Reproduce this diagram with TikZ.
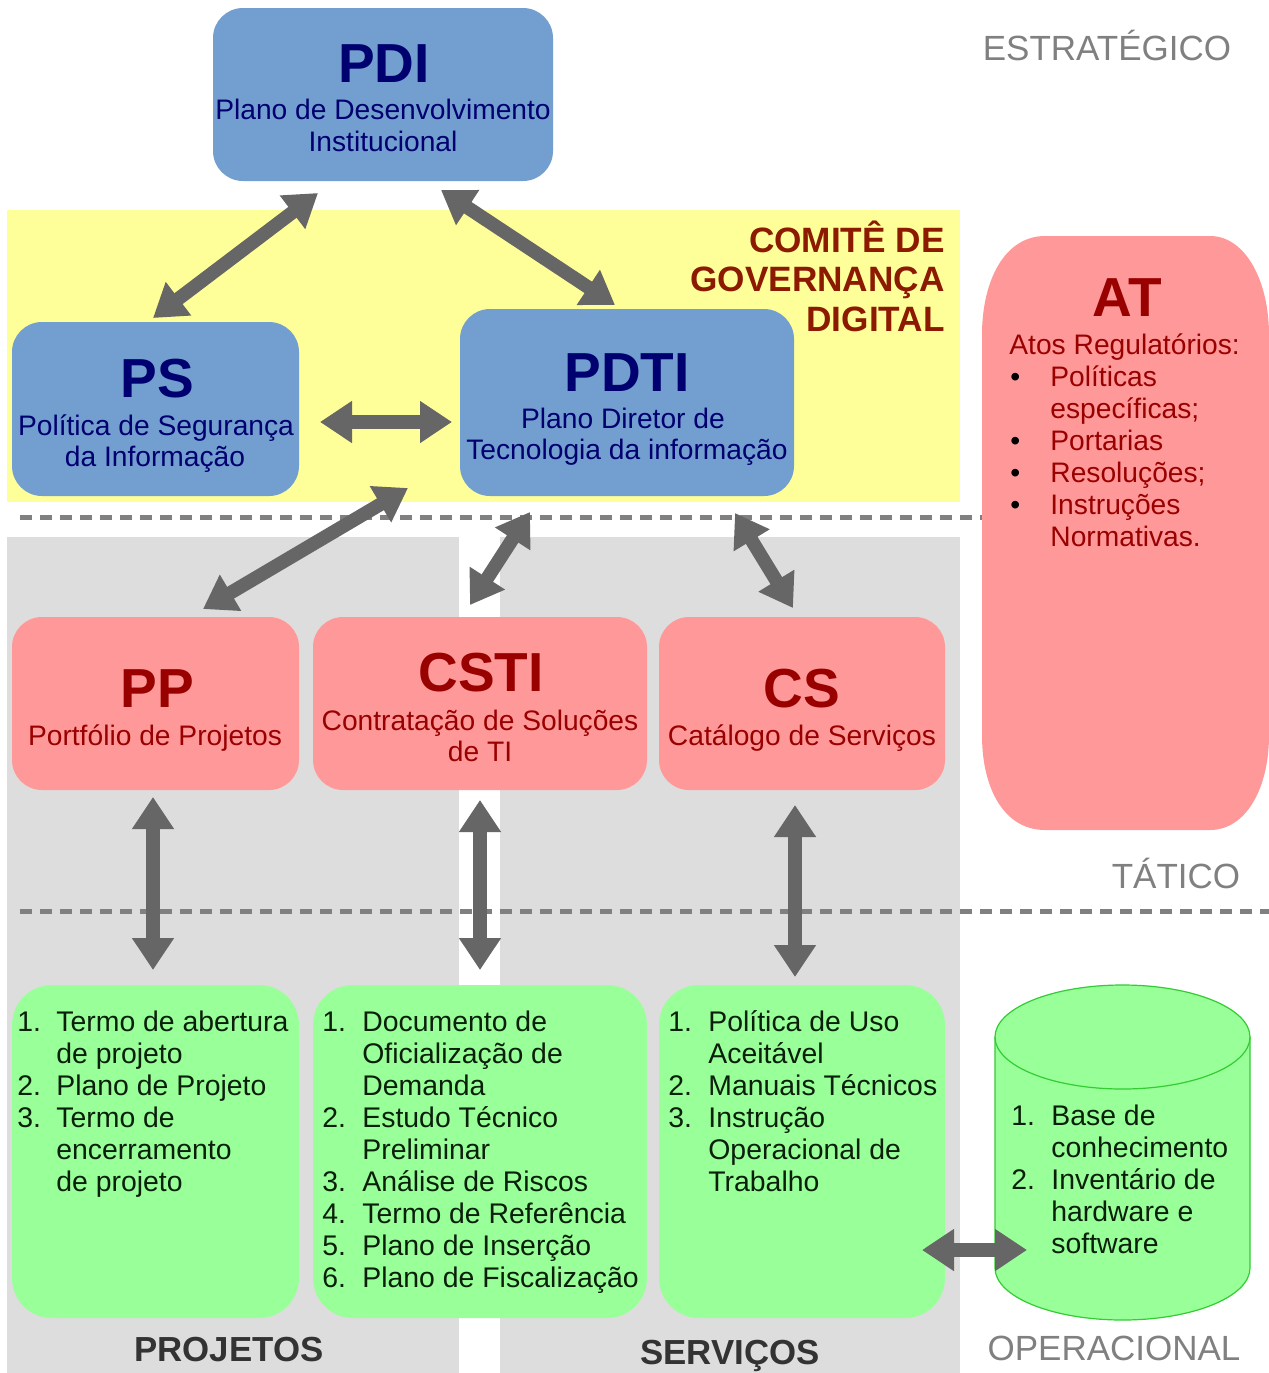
\documentclass[tikz,border=0pt]{standalone}
\usepackage{fontspec}
\setmainfont{Liberation Sans}
\usetikzlibrary{arrows.meta}
\definecolor{boxblue}{HTML}{729FCF}
\definecolor{navy}{HTML}{000070}
\definecolor{lyellow}{HTML}{FFFF99}
\definecolor{lgray}{HTML}{DDDDDD}
\definecolor{pink}{HTML}{FF9999}
\definecolor{dred}{HTML}{990000}
\definecolor{brownred}{HTML}{8B1A00}
\definecolor{lgreen}{HTML}{99FF99}
\definecolor{cylline}{HTML}{33CC33}
\definecolor{arrowgray}{HTML}{666666}
\definecolor{dashgray}{HTML}{808080}
\definecolor{lvlgray}{HTML}{808080}
\definecolor{catgray}{HTML}{333333}
\definecolor{listtext}{HTML}{0A200A}
\begin{document}
\begin{tikzpicture}[x=0.5pt,y=-0.5pt,
  box/.style={inner sep=0pt, rounded corners=15pt},
  bluebox/.style={box, fill=boxblue},
  pinkbox/.style={box, fill=pink},
  greenbox/.style={box, fill=lgreen, rounded corners=20pt},
  ttl/.style={inner sep=0pt, anchor=base, font=\fontsize{27.5}{32}\selectfont\bfseries},
  sub/.style={inner sep=0pt, anchor=base, font=\fontsize{14.1}{16}\selectfont},
  lst/.style={inner sep=0pt, anchor=base west, text=listtext, font=\fontsize{14.2}{16}\selectfont},
  lvl/.style={inner sep=0pt, anchor=base, text=lvlgray, font=\fontsize{17.5}{20}\selectfont},
  cat/.style={inner sep=0pt, anchor=base, text=catgray, font=\fontsize{17.4}{20}\selectfont\bfseries},
  comite/.style={inner sep=0pt, anchor=base east, text=brownred, font=\fontsize{17.6}{20}\selectfont\bfseries},
  dashline/.style={draw=dashgray, line width=2.5pt, dash pattern=on 6pt off 4pt},
  bigarrow/.style={draw=arrowgray, line width=6.8pt,
    {Triangle[length=16pt 0 0,width=20pt 0 0]}-{Triangle[length=16pt 0 0,width=20pt 0 0]}}
]
\useasboundingbox (0,0) rectangle (1269,1373);
\fill[white] (0,0) rectangle (1269,1373);

% regions
\fill[lyellow] (7,210) rectangle (960,502);
\fill[lgray] (7,537) rectangle (459,1373);
\fill[lgray] (500,537) rectangle (960,1373);

% level separators
\coordinate (d1s) at (20,517);
\coordinate (d1e) at (1269,517);
\coordinate (d2s) at (20,911);
\coordinate (d2e) at (1269,911);
\draw[dashline] (d1s) -- (d1e);
\draw[dashline] (d2s) -- (d2e);

% boxes
\node[bluebox, minimum width=170pt, minimum height=86.5pt] (pdi) at (383,94.5) {};
\node[bluebox, minimum width=143.5pt, minimum height=87pt] (ps) at (155.5,409) {};
\node[bluebox, minimum width=167pt, minimum height=93.5pt] (pdti) at (627,402.5) {};
\node[pinkbox, minimum width=143.5pt, minimum height=86.5pt] (pp) at (155.5,703.5) {};
\node[pinkbox, minimum width=167pt, minimum height=86.5pt] (csti) at (480,703.5) {};
\node[pinkbox, minimum width=143pt, minimum height=86.5pt] (cs) at (802,703.5) {};
\node[greenbox, minimum width=143.5pt, minimum height=166.5pt] (g1) at (155.5,1151.5) {};
\node[greenbox, minimum width=167pt, minimum height=166.5pt] (g2) at (480,1151.5) {};
\node[greenbox, minimum width=143pt, minimum height=166.5pt] (g3) at (802,1151.5) {};

% AT shape
\fill[pink] (982,335) .. controls (982,280) and (1005,236) .. (1045,236) -- (1210,236)
  .. controls (1245,236) and (1269,280) .. (1269,335) -- (1269,735)
  .. controls (1269,790) and (1245,830) .. (1210,830) -- (1045,830)
  .. controls (1005,830) and (982,790) .. (982,735) -- cycle;

% cylinder
\filldraw[fill=lgreen, draw=cylline, line width=0.6pt]
  (995,1037) -- (995,1268) .. controls (995,1296.7) and (1052.1,1320) .. (1122.5,1320)
  .. controls (1192.9,1320) and (1250,1296.7) .. (1250,1268) -- (1250,1037)
  .. controls (1250,1008.3) and (1192.9,985) .. (1122.5,985)
  .. controls (1052.1,985) and (995,1008.3) .. (995,1037) -- cycle;
\draw[draw=cylline, line width=0.6pt] (995,1037) .. controls (995,1065.7) and (1052.1,1089) .. (1122.5,1089)
  .. controls (1192.9,1089) and (1250,1065.7) .. (1250,1037);

% arrows
\coordinate (a1s) at (318,193);  \coordinate (a1e) at (153,318);
\coordinate (a2s) at (441,190);  \coordinate (a2e) at (615,305);
\coordinate (a3s) at (320,422);  \coordinate (a3e) at (452,422);
\coordinate (a4s) at (408,488);  \coordinate (a4e) at (203,609);
\coordinate (a5s) at (530,512);  \coordinate (a5e) at (470,605);
\coordinate (a6s) at (735,513);  \coordinate (a6e) at (793,608);
\coordinate (a7s) at (153,797);  \coordinate (a7e) at (153,970);
\coordinate (a8s) at (480,800);  \coordinate (a8e) at (480,970);
\coordinate (a9s) at (795,805);  \coordinate (a9e) at (795,977);
\coordinate (a10s) at (922,1250); \coordinate (a10e) at (1027,1250);
\foreach \k in {1,...,10} { \draw[bigarrow] (a\k s) -- (a\k e); }

% texts: blue boxes
\node[ttl, text=navy] (pdit) at (384,82) {PDI};
\node[sub, text=navy] (pdi1) at (383,119) {Plano de Desenvolvimento};
\node[sub, text=navy] (pdi2) at (383,151) {Institucional};
\node[ttl, text=navy] (pst) at (157,397) {PS};
\node[sub, text=navy] (ps1) at (156,435) {Política de Segurança};
\node[sub, text=navy] (ps2) at (155,466) {da Informação};
\node[ttl, text=navy] (pdtit) at (627,391) {PDTI};
\node[sub, text=navy] (pdti1) at (623,428) {Plano Diretor de};
\node[sub, text=navy] (pdti2) at (627,459) {Tecnologia da informação};

% pink boxes
\node[ttl, text=dred] (ppt) at (157,707) {PP};
\node[sub, text=dred] (pp1) at (155,745) {Portfólio de Projetos};
\node[ttl, text=dred] (cstit) at (481,691) {CSTI};
\node[sub, text=dred] (csti1) at (480,730) {Contratação de Soluções};
\node[sub, text=dred] (csti2) at (480,761) {de TI};
\node[ttl, text=dred] (cst) at (802,707) {CS};
\node[sub, text=dred] (cs1) at (802,745) {Catálogo de Serviços};

% AT
\node[ttl, text=dred] (att) at (1127,316) {AT};
\node[sub, anchor=base west, text=dred] (at0) at (1009,354) {Atos Regulatórios:};
\foreach \b/\t [count=\i] in {\textbullet/Políticas, /específicas;, \textbullet/Portarias, \textbullet/Resoluções;, \textbullet/Instruções, /Normativas.} {
  \node[sub, anchor=base west, text=black] (atb\i) at (1010,{354+32*\i}) {\b};
  \node[sub, anchor=base west, text=dred] (at\i) at (1050,{354+32*\i}) {\t};
}

% committee
\node[comite] (com1) at (945,252) {COMITÊ DE};
\node[comite] (com2) at (945,291) {GOVERNANÇA};
\node[comite] (com3) at (945,331) {DIGITAL};

% levels
\node[lvl] (lv1) at (1107,60) {ESTRATÉGICO};
\node[lvl] (lv2) at (1176,888) {TÁTICO};
\node[lvl] (lv3) at (1114,1360) {OPERACIONAL};
\node[cat] (cat1) at (229,1361) {PROJETOS};
\node[cat] (cat2) at (730,1364) {SERVIÇOS};

% lists
\foreach \n/\t [count=\i] in {1./Termo de abertura, /de projeto, 2./Plano de Projeto, 3./Termo de, /encerramento, /de projeto} {
  \node[lst] (la\i) at (17,{1031+32*(\i-1)}) {\n};
  \node[lst] (lat\i) at (56,{1031+32*(\i-1)}) {\t};
}
\foreach \n/\t [count=\i] in {1./Documento de, /Oficialização de, /Demanda, 2./Estudo Técnico, /Preliminar, 3./Análise de Riscos, 4./Termo de Referência, 5./Plano de Inserção, 6./Plano de Fiscalização} {
  \node[lst] (lb\i) at (322,{1031+32*(\i-1)}) {\n};
  \node[lst] (lbt\i) at (362,{1031+32*(\i-1)}) {\t};
}
\foreach \n/\t [count=\i] in {1./Política de Uso, /Aceitável, 2./Manuais Técnicos, 3./Instrução, /Operacional de, /Trabalho} {
  \node[lst] (lc\i) at (668,{1031+32*(\i-1)}) {\n};
  \node[lst] (lct\i) at (708,{1031+32*(\i-1)}) {\t};
}
\foreach \n/\t [count=\i] in {1./Base de, /conhecimento, 2./Inventário de, /hardware e, /software} {
  \node[lst] (ld\i) at (1011,{1125+32*(\i-1)}) {\n};
  \node[lst] (ldt\i) at (1051,{1125+32*(\i-1)}) {\t};
}
\end{tikzpicture}
\end{document}
